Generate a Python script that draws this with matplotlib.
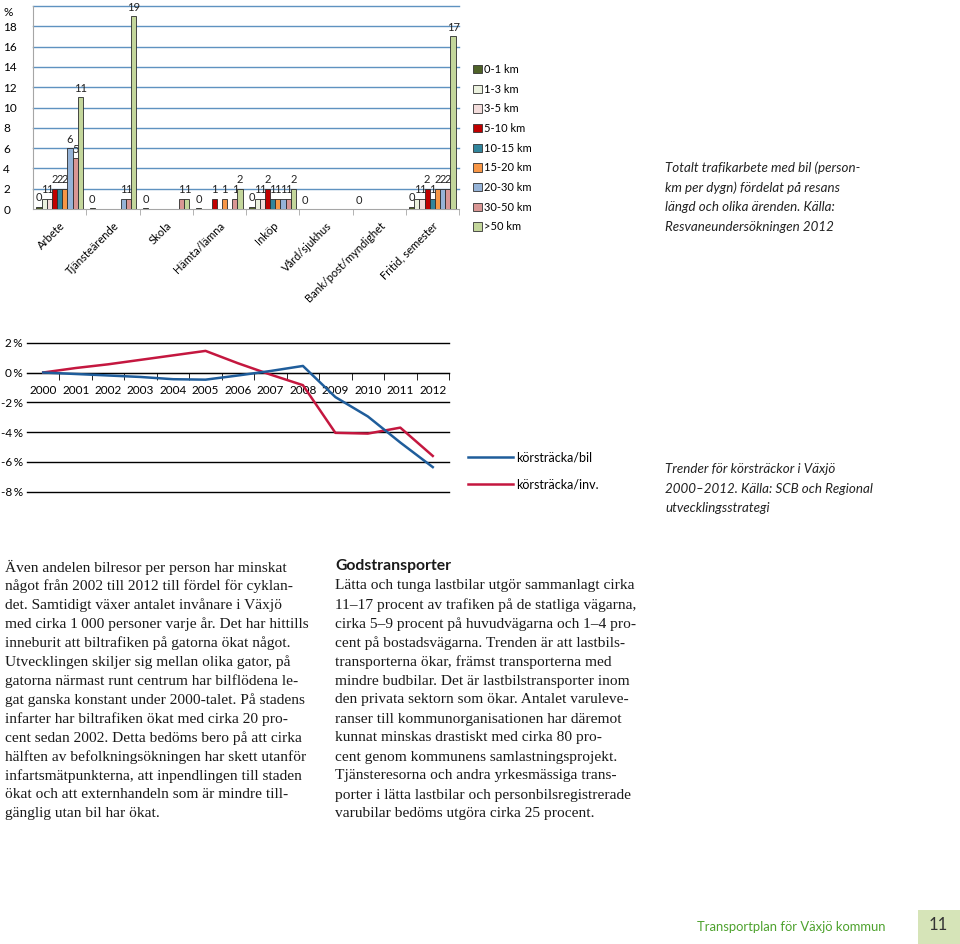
import matplotlib
matplotlib.use('Agg')
import matplotlib.pyplot as plt
import numpy as np
from matplotlib.lines import Line2D
from matplotlib.patches import Patch, Rectangle

W, H = 960, 944
fig = plt.figure(figsize=(9.6, 9.44), dpi=100)
fig.patch.set_facecolor('white')

def fx(px):
    return px / W

def fy(py):
    return 1 - py / H

SANS = ['Lato', 'DejaVu Sans']
SERIF = ['Liberation Serif', 'DejaVu Serif']

# ---------------- Data: bar chart ----------------
categories = ['Arbete', 'Tjänsteärende', 'Skola', 'Hämta/lämna', 'Inköp',
              'Vård/sjukhus', 'Bank/post/myndighet', 'Fritid, semester']
series_names = ['0-1 km', '1-3 km', '3-5 km', '5-10 km', '10-15 km',
                '15-20 km', '20-30 km', '30-50 km', '>50 km']
nan = np.nan
v_0_1 = [0.2, 0.05, 0.05, 0.05, 0.2, 0.0, 0.0, 0.2]
v_1_3 = [1, nan, nan, nan, 1, nan, nan, 1]
v_3_5 = [1, nan, nan, nan, 1, nan, nan, 1]
v_5_10 = [2, nan, nan, 1, 2, nan, nan, 2]
v_10_15 = [2, nan, nan, nan, 1, nan, nan, 1]
v_15_20 = [2, nan, nan, 1, 1, nan, nan, 2]
v_20_30 = [6, 1, nan, nan, 1, nan, nan, 2]
v_30_50 = [5, 1, 1, 1, 1, nan, nan, 2]
v_gt50 = [11, 19, 1, 2, 2, nan, nan, 17]
bar_series = [v_0_1, v_1_3, v_3_5, v_5_10, v_10_15, v_15_20, v_20_30, v_30_50, v_gt50]
bar_colors = ['#4F6228', '#EBF1DE', '#F2DCDB', '#C00000', '#31859C',
              '#F79646', '#95B3D7', '#D99694', '#C3D69B']
bar_yticks = [0, 2, 4, 6, 8, 10, 12, 14, 16, 18]

# ---------------- Data: line chart ----------------
years = ['2000', '2001', '2002', '2003', '2004', '2005', '2006',
         '2007', '2008', '2009', '2010', '2011', '2012']
km_per_car = [0.0, -0.1, -0.2, -0.3, -0.45, -0.48, -0.2, 0.1, 0.44, -1.65, -2.95, -4.7, -6.35]
km_per_inv = [0.0, 0.3, 0.55, 0.85, 1.15, 1.45, 0.62, -0.14, -0.85, -4.05, -4.1, -3.7, -5.6]
line_yticks = [2, 0, -2, -4, -6, -8]

# ---------------- Bar chart ----------------
ax1 = fig.add_axes([fx(33), fy(209), fx(459) - fx(33), (209 - 6) / H])
n = len(bar_series)
group_w = 0.875
bw = group_w / n
x = np.arange(len(categories))
for k, (vals, col) in enumerate(zip(bar_series, bar_colors)):
    vals = np.array(vals, dtype=float)
    pos = x + 0.5 - group_w / 2 + bw * (k + 0.5)
    ok = ~np.isnan(vals)
    ax1.bar(pos[ok], vals[ok], width=bw, color=col, edgecolor='#2b2b2b',
            linewidth=0.6, zorder=3)
    for p, v in zip(pos[ok], vals[ok]):
        ax1.annotate(f'{int(round(v))}', (p, v), xytext=(0, 2.5),
                     textcoords='offset points', ha='center', va='bottom',
                     fontsize=8, family=SANS, color='#222222')
ax1.set_xlim(0, len(categories))
ax1.set_ylim(0, 20)
ax1.set_yticks(bar_yticks)
ax1.set_yticklabels([str(t) for t in bar_yticks], ha='left', family=SANS, fontsize=8.5)
ax1.tick_params(axis='y', length=0, pad=21.5)
for yv in range(2, 21, 2):
    ax1.axhline(yv, color='#5f92c0', linewidth=1.0, zorder=1, clip_on=False)
ax1.text(-30 / 53.25, 19.4, '%', ha='left', va='center', fontsize=8.5, family=SANS)
for s in ['top', 'right']:
    ax1.spines[s].set_visible(False)
ax1.spines['left'].set_color('#a6a6a6')
ax1.spines['bottom'].set_color('#a6a6a6')
ax1.set_xticks(x + 0.5)
ax1.set_xticklabels(categories, rotation=45, ha='right', va='top',
                    rotation_mode='anchor', family=SANS, fontsize=8)
ax1.tick_params(axis='x', which='major', length=0, pad=8)
ax1.set_xticks(np.arange(1, len(categories) + 1), minor=True)
ax1.tick_params(axis='x', which='minor', length=4, color='#a6a6a6')

handles = [Patch(facecolor=c, edgecolor='#333333', linewidth=0.6) for c in bar_colors]
fig.legend(handles, series_names, loc='upper left',
           bbox_to_anchor=(fx(473), fy(64)), frameon=False,
           prop={'family': SANS, 'size': 8}, handlelength=0.8, handleheight=0.8,
           handletextpad=0.2, labelspacing=0.78, borderaxespad=0, borderpad=0)

cap1 = ['Totalt trafikarbete med bil (person-',
        'km per dygn) fördelat på resans',
        'längd och olika ärenden. Källa:',
        'Resvaneundersökningen 2012']
for i, t in enumerate(cap1):
    fig.text(fx(665), fy(168 + 19.7 * i), t, ha='left', va='center',
             fontsize=9.6, style='italic', family=SANS, color='#222222')

# ---------------- Line chart ----------------
ax2 = fig.add_axes([fx(27), fy(491.7), fx(449) - fx(27), (491.7 - 342.7) / H])
xl = np.arange(len(years)) + 0.5
ax2.plot(xl, km_per_car, color='#1f5d9b', linewidth=1.8, zorder=4, label='körsträcka/bil')
ax2.plot(xl, km_per_inv, color='#c4173f', linewidth=1.8, zorder=3, label='körsträcka/inv.')
ax2.set_xlim(0, len(years))
ax2.set_ylim(-8, 2)
for yv in line_yticks:
    ax2.axhline(yv, color='black', linewidth=1.0, zorder=1, clip_on=False)
for s in ['top', 'right', 'left']:
    ax2.spines[s].set_visible(False)
ax2.spines['bottom'].set_position(('data', 0))
ax2.spines['bottom'].set_color('black')
ax2.set_yticks(line_yticks)
ax2.set_yticklabels([f'{t}\u2009%' for t in line_yticks], family=SANS, fontsize=8.5)
ax2.tick_params(axis='y', length=0, pad=3)
ax2.set_xticks(xl)
ax2.set_xticklabels(years, family=SANS, fontsize=8.5)
ax2.tick_params(axis='x', which='major', length=0, pad=9)
ax2.set_xticks(np.arange(1, len(years) + 1), minor=True)
ax2.tick_params(axis='x', which='minor', length=5, direction='out', color='black')
ax2.legend(loc='upper left', bbox_to_anchor=(fx(468), fy(451)),
           bbox_transform=fig.transFigure, frameon=False,
           prop={'family': SANS, 'size': 9}, handlelength=3.6,
           handletextpad=0.25, labelspacing=1.25, borderaxespad=0, borderpad=0)

cap2 = ['Trender för körsträckor i Växjö',
        '2000–2012. Källa: SCB och Regional',
        'utvecklingsstrategi']
for i, t in enumerate(cap2):
    fig.text(fx(665), fy(469 + 19.7 * i), t, ha='left', va='center',
             fontsize=9.6, style='italic', family=SANS, color='#222222')

# ---------------- Body text ----------------
left_lines = [
    'Även andelen bilresor per person har minskat',
    'något från 2002 till 2012 till fördel för cyklan-',
    'det. Samtidigt växer antalet invånare i Växjö',
    'med cirka 1\u2009000 personer varje år. Det har hittills',
    'inneburit att biltrafiken på gatorna ökat något.',
    'Utvecklingen skiljer sig mellan olika gator, på',
    'gatorna närmast runt centrum har bilflödena le-',
    'gat ganska konstant under 2000-talet. På stadens',
    'infarter har biltrafiken ökat med cirka 20 pro-',
    'cent sedan 2002. Detta bedöms bero på att cirka',
    'hälften av befolkningsökningen har skett utanför',
    'infartsmätpunkterna, att inpendlingen till staden',
    'ökat och att externhandeln som är mindre till-',
    'gänglig utan bil har ökat.',
]
right_lines = [
    'Lätta och tunga lastbilar utgör sammanlagt cirka',
    '11–17 procent av trafiken på de statliga vägarna,',
    'cirka 5–9 procent på huvudvägarna och 1–4 pro-',
    'cent på bostadsvägarna. Trenden är att lastbils-',
    'transporterna ökar, främst transporterna med',
    'mindre budbilar. Det är lastbilstransporter inom',
    'den privata sektorn som ökar. Antalet varuleve-',
    'ranser till kommunorganisationen har däremot',
    'kunnat minskas drastiskt med cirka 80 pro-',
    'cent genom kommunens samlastningsprojekt.',
    'Tjänsteresorna och andra yrkesmässiga trans-',
    'porter i lätta lastbilar och personbilsregistrerade',
    'varubilar bedöms utgöra cirka 25 procent.',
]
BODY = 11.05
for i, t in enumerate(left_lines):
    fig.text(fx(5), fy(567 + 19.0 * i), t, ha='left', va='center',
             fontsize=BODY, family=SERIF, color='#1a1a1a')
fig.text(fx(335), fy(566), 'Godstransporter', ha='left', va='center',
         fontsize=11.3, fontweight='bold', family=SANS, color='#1a1a1a')
for i, t in enumerate(right_lines):
    fig.text(fx(335), fy(586 + 19.0 * i), t, ha='left', va='center',
             fontsize=BODY, family=SERIF, color='#1a1a1a')

# ---------------- Footer ----------------
fig.text(fx(697), fy(927), 'Transportplan för Växjö kommun', ha='left', va='center',
         fontsize=9.4, family=SANS, color='#4ea22e')
fig.patches.append(Rectangle((fx(918), 0), fx(960) - fx(918), (944 - 910) / H,
                             transform=fig.transFigure, facecolor='#d6e4b8',
                             edgecolor='none'))
fig.text(fx(938), fy(925), '11', ha='center', va='center', fontsize=12,
         family=SANS, color='#333333')

fig.savefig('out.png', dpi=100)
